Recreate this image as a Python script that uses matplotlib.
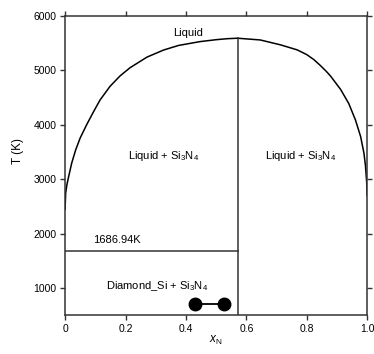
import matplotlib
matplotlib.use('Agg')
from matplotlib import pyplot as plt

plt.rcParams['font.family'] = ['Liberation Sans', 'DejaVu Sans']
plt.rcParams['mathtext.fontset'] = 'custom'
plt.rcParams['mathtext.rm'] = 'Liberation Sans'
plt.rcParams['mathtext.it'] = 'Liberation Sans:italic'

# liquidus, ramo esquerdo (Si ate Si3N4)
xLeft = [0.0, 0.002, 0.006, 0.011, 0.022, 0.035, 0.05, 0.072, 0.094, 0.116,
         0.149, 0.182, 0.215, 0.271, 0.326, 0.376, 0.447, 0.50, 0.536, 0.571]
tLeft = [2450, 2750, 2900, 3030, 3300, 3540, 3760, 4010, 4240, 4460,
         4710, 4900, 5050, 5245, 5375, 5460, 5530, 5565, 5583, 5592]
# liquidus, ramo direito (Si3N4 ate N)
xRight = [0.571, 0.646, 0.713, 0.768, 0.80, 0.823, 0.845, 0.865, 0.878, 0.912,
          0.939, 0.961, 0.978, 0.989, 0.994, 0.998, 0.9995]
tRight = [5592, 5560, 5470, 5378, 5290, 5200, 5090, 4980, 4900, 4650,
          4390, 4089, 3786, 3482, 3250, 2950, 2700]

xSi3N4 = 4 / 7
tTop = 5592
tEutectic = 1686.94
xDots = [0.429, 0.525]
tDots = [710, 710]

fig = plt.figure(figsize=(3.74, 3.54), dpi=100)
ax = fig.add_axes([0.174, 0.1088, 0.808, 0.846])

cor = '#333333'
ax.plot(xLeft, tLeft, color='black', lw=1.1)
ax.plot(xRight, tRight, color='black', lw=1.1)
ax.plot([xSi3N4, xSi3N4], [500, tTop], color=cor, lw=1.1)
ax.plot([0, xSi3N4], [tEutectic, tEutectic], color=cor, lw=1.1)
ax.plot(xDots, tDots, 'o-', color='black', ms=9, lw=1.3)

fs = 8
ax.text(0.407, 5690, 'Liquid', fontsize=fs, ha='center', va='center')
ax.text(0.325, 3430, r'Liquid + Si$_3$N$_4$', fontsize=fs, ha='center', va='center')
ax.text(0.78, 3430, r'Liquid + Si$_3$N$_4$', fontsize=fs, ha='center', va='center')
ax.text(0.173, 1880, '%.2fK' % tEutectic, fontsize=fs, ha='center', va='center')
ax.text(0.304, 1040, r'Diamond_Si + Si$_3$N$_4$', fontsize=fs, ha='center', va='center')

ax.set_xlim(0, 1)
ax.set_ylim(500, 6000)
ax.set_xticks([0, 0.2, 0.4, 0.6, 0.8, 1.0])
ax.set_xticklabels(['0', '0.2', '0.4', '0.6', '0.8', '1.0'])
ax.set_yticks([1000, 2000, 3000, 4000, 5000, 6000])
ax.tick_params(direction='out', length=3.3, width=1, labelsize=7.5, colors=cor,
               labelcolor='black', top=True, right=True, pad=2.5)
ax.tick_params(axis='y', which='both', left=True, length=3.8)
for s in ax.spines.values():
    s.set_color(cor)
    s.set_linewidth(1.1)

ax.set_xlabel(r'$x_{\mathrm{N}}$', fontsize=8.5)
ax.set_ylabel('T (K)', fontsize=8.5)
ax.yaxis.set_label_coords(-0.135, 0.55)
ax.xaxis.set_label_coords(0.5, -0.06)

fig.savefig('out.png', dpi=100)
